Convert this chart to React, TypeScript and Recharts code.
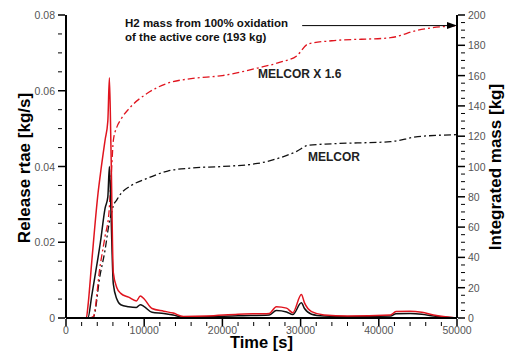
import React from 'react';
import { LineChart, Line, XAxis, YAxis, ReferenceLine, ReferenceDot } from 'recharts';

// release rate curves (left axis, kg/s)
const rateTime = [0, 2600, 2800, 3300, 4100, 4400, 5000, 5350, 5550, 5750, 6050, 6500, 7000, 8000, 9000, 9500, 10000, 11000, 12500, 13700, 15000, 18000, 22000, 26000, 26900, 28200, 29000, 30100, 30500, 31400, 33000, 36000, 41500, 42200, 44000, 45500, 47000, 50000];
const rateX16 = [0, 0, 0.003, 0.015, 0.033, 0.038, 0.047, 0.052, 0.0634, 0.045, 0.012, 0.008, 0.0065, 0.0055, 0.0045, 0.0058, 0.005, 0.0025, 0.0018, 0.0013, 0.0004, 0.0005, 0.001, 0.0012, 0.003, 0.0026, 0.0014, 0.0062, 0.004, 0.0017, 0.0008, 0.0005, 0.0008, 0.0017, 0.0018, 0.0015, 0.0008, 0];
const rateMelcor = [0, 0, 0, 0.006, 0.016, 0.02, 0.029, 0.032, 0.04, 0.028, 0.009, 0.005, 0.0035, 0.003, 0.0028, 0.0035, 0.003, 0.0015, 0.0012, 0.0008, 0.0002, 0.0003, 0.0006, 0.0008, 0.002, 0.0016, 0.0009, 0.004, 0.0025, 0.001, 0.0005, 0.0003, 0.0005, 0.0011, 0.0012, 0.001, 0.0005, 0];

// integrated mass curves (right axis, kg)
const massTime = [3000, 3500, 4350, 5000, 5500, 5850, 6050, 6500, 7000, 8200, 10300, 13000, 16000, 20000, 24500, 27500, 29500, 31000, 34000, 41500, 45000, 50000];
const massX16 = [0, 1, 34, 54, 70, 100, 117, 126, 131, 139, 148, 155, 158, 160, 165, 169, 173, 181, 183, 185, 190, 193];
const massMelcor = [0, 0.5, 28, 45, 62, 70, 74, 78, 82, 87, 92, 97, 99, 100, 102, 106, 110, 114, 115, 116.4, 119.7, 121];

const xMajor = [0, 10000, 20000, 30000, 40000, 50000];
const leftMajor = [0, 0.02, 0.04, 0.06, 0.08];
const rightMajor = [0, 20, 40, 60, 80, 100, 120, 140, 160, 180, 200];

const xTicks = Array.from({ length: 26 }, (_, i) => i * 2000);
const leftTicks = Array.from({ length: 17 }, (_, i) => +(i * 0.005).toFixed(3));
const rightTicks = Array.from({ length: 41 }, (_, i) => i * 5);

const rateData = rateTime.map((t, i) => ({ t, x16: rateX16[i], melcor: rateMelcor[i] }));
const massData = massTime.map((t, i) => ({ t, x16: massX16[i], melcor: massMelcor[i] }));

const FONT = '"Liberation Sans", Arial, sans-serif';
const DASHDOT = '7 3 2 3';

function makeTick(side: 'bottom' | 'left' | 'right', majors: number[], fmt: (v: number) => string) {
  return (props: any) => {
    const { x, y, payload } = props;
    const v = payload.value;
    const isMajor = majors.some((m) => Math.abs(m - v) < 1e-9);
    const len = isMajor ? 7 : 4;
    if (side === 'bottom') {
      return (
        <g>
          <line x1={x} y1={y} x2={x} y2={y - len} stroke="#000" strokeWidth={isMajor ? 1.5 : 1} />
          {isMajor && (
            <text x={x} y={y + 7.5} textAnchor="middle" fontSize={10.5} fill="#555" fontFamily={FONT}>
              {fmt(v)}
            </text>
          )}
        </g>
      );
    }
    if (side === 'left') {
      return (
        <g>
          <line x1={x} y1={y} x2={x + len} y2={y} stroke="#000" strokeWidth={isMajor ? 1.5 : 1} />
          {isMajor && (
            <text x={x - 3} y={y + 4} textAnchor="end" fontSize={10.5} fill="#555" fontFamily={FONT}>
              {fmt(v)}
            </text>
          )}
        </g>
      );
    }
    return (
      <g>
        <line x1={x} y1={y} x2={x - len} y2={y} stroke="#000" strokeWidth={isMajor ? 1.5 : 1} />
        {isMajor && (
          <text x={x + 3} y={y + 4} textAnchor="start" fontSize={10.5} fill="#555" fontFamily={FONT}>
            {fmt(v)}
          </text>
        )}
      </g>
    );
  };
}

const ArrowHead = (props: any) => {
  const { cx, cy } = props;
  return <path d={`M${cx} ${cy} L${cx - 10} ${cy - 3.5} L${cx - 10} ${cy + 3.5} Z`} fill="#000" />;
};

export default function App() {
  return (
    <div style={{ position: 'absolute', left: 0, top: 0, width: 505, height: 351, background: '#fff', fontFamily: FONT, overflow: 'hidden' }}>
      <LineChart width={505} height={351} margin={{ top: 15, right: 0, bottom: 0, left: 0 }}>
        <XAxis
          xAxisId="b"
          dataKey="t"
          type="number"
          domain={[0, 50000]}
          ticks={xTicks}
          interval={0}
          height={33}
          tickLine={false}
          axisLine={{ stroke: '#000', strokeWidth: 2 }}
          tick={makeTick('bottom', xMajor, (v) => String(v))}
          allowDataOverflow
        />
        <XAxis xAxisId="top" orientation="top" type="number" domain={[0, 50000]} height={0} tick={false} tickLine={false} axisLine={{ stroke: '#000', strokeWidth: 2 }} />
        <YAxis
          yAxisId="left"
          type="number"
          domain={[0, 0.08]}
          ticks={leftTicks}
          interval={0}
          width={66}
          tickLine={false}
          axisLine={{ stroke: '#000', strokeWidth: 2 }}
          tick={makeTick('left', leftMajor, (v) => (v === 0 ? '0' : String(v)))}
        />
        <YAxis
          yAxisId="right"
          orientation="right"
          type="number"
          domain={[0, 200]}
          ticks={rightTicks}
          interval={0}
          width={48}
          tickLine={false}
          axisLine={{ stroke: '#000', strokeWidth: 2 }}
          tick={makeTick('right', rightMajor, (v) => String(v))}
        />
        <Line xAxisId="b" yAxisId="right" data={massData} dataKey="melcor" type="monotone" stroke="#111" strokeWidth={1.3} strokeDasharray={DASHDOT} dot={false} isAnimationActive={false} />
        <Line xAxisId="b" yAxisId="right" data={massData} dataKey="x16" type="monotone" stroke="#e0141e" strokeWidth={1.3} strokeDasharray={DASHDOT} dot={false} isAnimationActive={false} />
        <Line xAxisId="b" yAxisId="left" data={rateData} dataKey="melcor" type="monotone" stroke="#111" strokeWidth={1.5} dot={false} isAnimationActive={false} />
        <Line xAxisId="b" yAxisId="left" data={rateData} dataKey="x16" type="monotone" stroke="#e0141e" strokeWidth={1.5} dot={false} isAnimationActive={false} />
        <ReferenceLine xAxisId="b" yAxisId="right" segment={[{ x: 30200, y: 193 }, { x: 49000, y: 193 }]} stroke="#000" strokeWidth={1} />
        <ReferenceDot xAxisId="b" yAxisId="right" x={50000} y={193} shape={<ArrowHead />} />
      </LineChart>
      <div style={{ position: 'absolute', left: 228, top: 16, fontSize: 11.5, fontWeight: 'bold', lineHeight: '14px', color: '#111', whiteSpace: 'nowrap', transform: 'translateX(-103px)' }}>
        H2 mass from 100% oxidation
        <br />
        of the active core (193 kg)
      </div>
      <div style={{ position: 'absolute', left: 258, top: 67, fontSize: 12, fontWeight: 'bold', color: '#222', whiteSpace: 'nowrap' }}>MELCOR X 1.6</div>
      <div style={{ position: 'absolute', left: 308, top: 150, fontSize: 12, fontWeight: 'bold', color: '#222', whiteSpace: 'nowrap' }}>MELCOR</div>
      <div style={{ position: 'absolute', left: 230, top: 336, fontSize: 16.5, lineHeight: '13px', fontWeight: 'bold', color: '#000', whiteSpace: 'nowrap' }}>Time [s]</div>
      <div style={{ position: 'absolute', left: 25, top: 168, width: 0, height: 0 }}>
        <div style={{ position: 'absolute', transform: 'translate(-50%, -50%) rotate(-90deg)', fontSize: 17, fontWeight: 'bold', whiteSpace: 'nowrap', color: '#000' }}>Release rtae [kg/s]</div>
      </div>
      <div style={{ position: 'absolute', left: 496, top: 167, width: 0, height: 0 }}>
        <div style={{ position: 'absolute', transform: 'translate(-50%, -50%) rotate(-90deg)', fontSize: 17, fontWeight: 'bold', whiteSpace: 'nowrap', color: '#000' }}>Integrated mass [kg]</div>
      </div>
    </div>
  );
}
